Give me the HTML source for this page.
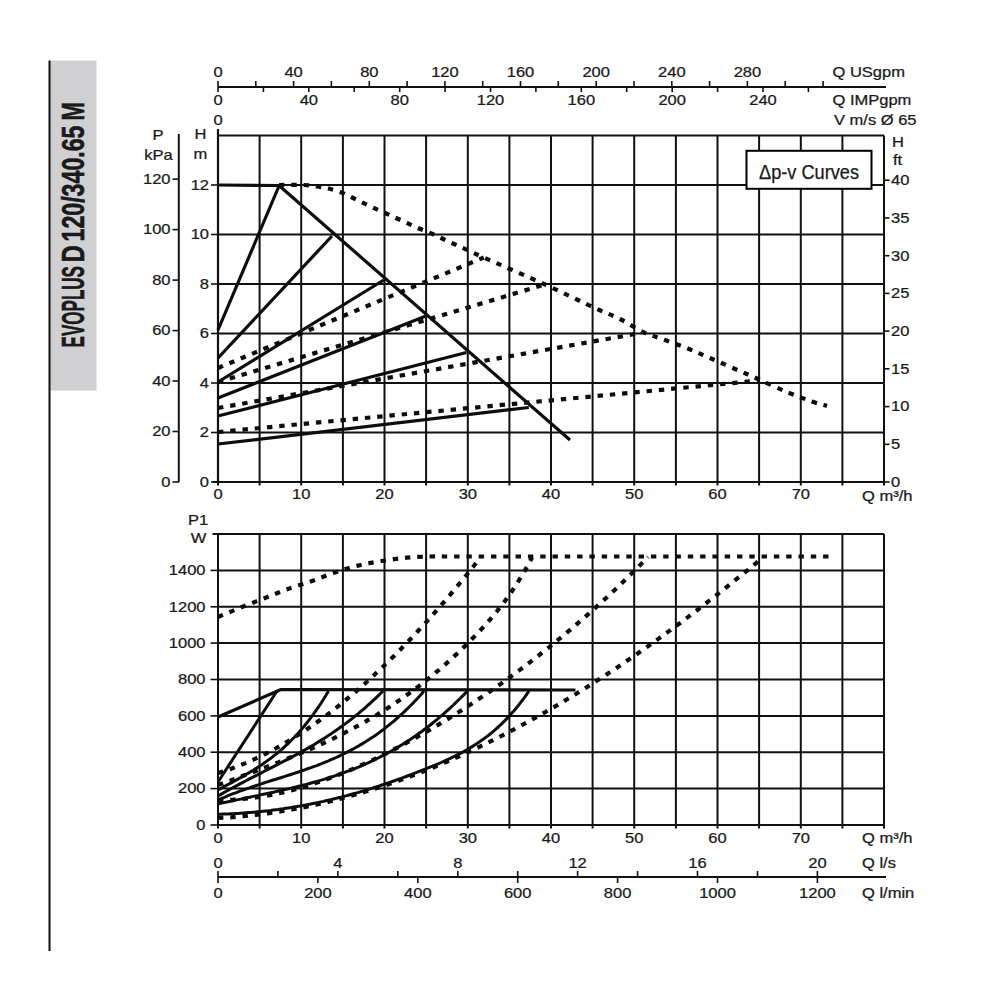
<!DOCTYPE html>
<html><head><meta charset="utf-8"><style>
html,body{margin:0;padding:0;background:#fff;width:1000px;height:1000px;overflow:hidden}
svg{display:block}
text{font-family:"Liberation Sans",sans-serif;fill:#1a1a1a;stroke:#1a1a1a;stroke-width:0.25}
line{stroke:#111}
.sl{fill:none;stroke:#0d0d0d;stroke-linejoin:round}
.dt{fill:none;stroke:#0d0d0d;stroke-width:4.2;stroke-dasharray:5.4 6.9}
</style></head><body>
<svg width="1000" height="1000" viewBox="0 0 1000 1000">
<rect x="50" y="60.5" width="46.5" height="330" fill="#d0d0d2"/>
<line x1="49.5" y1="60.5" x2="49.5" y2="951" stroke-width="2"/>
<text class="side" transform="translate(84.3,347.5) rotate(-90)" x="0" y="0" font-size="32" font-weight="bold" textLength="81.5" lengthAdjust="spacingAndGlyphs" style="stroke-width:0.6">EVOPLUS</text>
<text class="side" transform="translate(84.3,262.3) rotate(-90)" x="0" y="0" font-size="32" font-weight="bold" textLength="17.0" lengthAdjust="spacingAndGlyphs" style="stroke-width:0.6">D</text>
<text class="side" transform="translate(84.3,241.5) rotate(-90)" x="0" y="0" font-size="32" font-weight="bold" textLength="116.0" lengthAdjust="spacingAndGlyphs" style="stroke-width:0.6">120/340.65</text>
<text class="side" transform="translate(84.3,120.6) rotate(-90)" x="0" y="0" font-size="32" font-weight="bold" textLength="18.6" lengthAdjust="spacingAndGlyphs" style="stroke-width:0.6">M</text>
<line x1="218" y1="87" x2="886" y2="87" stroke-width="2"/>
<line x1="218" y1="81" x2="218" y2="87" stroke-width="1.6"/>
<line x1="255.8" y1="81" x2="255.8" y2="87" stroke-width="1.6"/>
<line x1="293.6" y1="81" x2="293.6" y2="87" stroke-width="1.6"/>
<line x1="331.4" y1="81" x2="331.4" y2="87" stroke-width="1.6"/>
<line x1="369.3" y1="81" x2="369.3" y2="87" stroke-width="1.6"/>
<line x1="407.1" y1="81" x2="407.1" y2="87" stroke-width="1.6"/>
<line x1="444.9" y1="81" x2="444.9" y2="87" stroke-width="1.6"/>
<line x1="482.7" y1="81" x2="482.7" y2="87" stroke-width="1.6"/>
<line x1="520.5" y1="81" x2="520.5" y2="87" stroke-width="1.6"/>
<line x1="558.3" y1="81" x2="558.3" y2="87" stroke-width="1.6"/>
<line x1="596.2" y1="81" x2="596.2" y2="87" stroke-width="1.6"/>
<line x1="634" y1="81" x2="634" y2="87" stroke-width="1.6"/>
<line x1="671.8" y1="81" x2="671.8" y2="87" stroke-width="1.6"/>
<line x1="709.6" y1="81" x2="709.6" y2="87" stroke-width="1.6"/>
<line x1="747.4" y1="81" x2="747.4" y2="87" stroke-width="1.6"/>
<line x1="785.2" y1="81" x2="785.2" y2="87" stroke-width="1.6"/>
<line x1="823.1" y1="81" x2="823.1" y2="87" stroke-width="1.6"/>
<line x1="218" y1="87" x2="218" y2="92" stroke-width="1.6"/>
<line x1="263.4" y1="87" x2="263.4" y2="92" stroke-width="1.6"/>
<line x1="308.8" y1="87" x2="308.8" y2="92" stroke-width="1.6"/>
<line x1="354.2" y1="87" x2="354.2" y2="92" stroke-width="1.6"/>
<line x1="399.7" y1="87" x2="399.7" y2="92" stroke-width="1.6"/>
<line x1="445.1" y1="87" x2="445.1" y2="92" stroke-width="1.6"/>
<line x1="490.5" y1="87" x2="490.5" y2="92" stroke-width="1.6"/>
<line x1="535.9" y1="87" x2="535.9" y2="92" stroke-width="1.6"/>
<line x1="581.3" y1="87" x2="581.3" y2="92" stroke-width="1.6"/>
<line x1="626.7" y1="87" x2="626.7" y2="92" stroke-width="1.6"/>
<line x1="672.2" y1="87" x2="672.2" y2="92" stroke-width="1.6"/>
<line x1="717.6" y1="87" x2="717.6" y2="92" stroke-width="1.6"/>
<line x1="763" y1="87" x2="763" y2="92" stroke-width="1.6"/>
<line x1="808.4" y1="87" x2="808.4" y2="92" stroke-width="1.6"/>
<text transform="translate(218,76.5) scale(1.18,1)" text-anchor="middle" font-size="14">0</text>
<text transform="translate(293.6,76.5) scale(1.18,1)" text-anchor="middle" font-size="14">40</text>
<text transform="translate(369.3,76.5) scale(1.18,1)" text-anchor="middle" font-size="14">80</text>
<text transform="translate(444.9,76.5) scale(1.18,1)" text-anchor="middle" font-size="14">120</text>
<text transform="translate(520.5,76.5) scale(1.18,1)" text-anchor="middle" font-size="14">160</text>
<text transform="translate(596.2,76.5) scale(1.18,1)" text-anchor="middle" font-size="14">200</text>
<text transform="translate(671.8,76.5) scale(1.18,1)" text-anchor="middle" font-size="14">240</text>
<text transform="translate(747.4,76.5) scale(1.18,1)" text-anchor="middle" font-size="14">280</text>
<text transform="translate(218,105) scale(1.18,1)" text-anchor="middle" font-size="14">0</text>
<text transform="translate(308.8,105) scale(1.18,1)" text-anchor="middle" font-size="14">40</text>
<text transform="translate(399.7,105) scale(1.18,1)" text-anchor="middle" font-size="14">80</text>
<text transform="translate(490.5,105) scale(1.18,1)" text-anchor="middle" font-size="14">120</text>
<text transform="translate(581.3,105) scale(1.18,1)" text-anchor="middle" font-size="14">160</text>
<text transform="translate(672.2,105) scale(1.18,1)" text-anchor="middle" font-size="14">200</text>
<text transform="translate(763,105) scale(1.18,1)" text-anchor="middle" font-size="14">240</text>
<text transform="translate(832.5,76.5) scale(1.18,1)" text-anchor="start" font-size="14">Q USgpm</text>
<text transform="translate(832.5,105) scale(1.18,1)" text-anchor="start" font-size="14">Q IMPgpm</text>
<text transform="translate(834,124.5) scale(1.18,1)" text-anchor="start" font-size="14">V m/s &#216; 65</text>
<text transform="translate(218,125) scale(1.18,1)" text-anchor="middle" font-size="14">0</text>
<line x1="218" y1="135.5" x2="218" y2="485.5" stroke-width="2"/>
<line x1="259.6" y1="135.5" x2="259.6" y2="485.5" stroke-width="2"/>
<line x1="301.2" y1="135.5" x2="301.2" y2="485.5" stroke-width="2"/>
<line x1="342.9" y1="135.5" x2="342.9" y2="485.5" stroke-width="2"/>
<line x1="384.5" y1="135.5" x2="384.5" y2="485.5" stroke-width="2"/>
<line x1="426.1" y1="135.5" x2="426.1" y2="485.5" stroke-width="2"/>
<line x1="467.8" y1="135.5" x2="467.8" y2="485.5" stroke-width="2"/>
<line x1="509.4" y1="135.5" x2="509.4" y2="485.5" stroke-width="2"/>
<line x1="551" y1="135.5" x2="551" y2="485.5" stroke-width="2"/>
<line x1="592.6" y1="135.5" x2="592.6" y2="485.5" stroke-width="2"/>
<line x1="634.2" y1="135.5" x2="634.2" y2="485.5" stroke-width="2"/>
<line x1="675.9" y1="135.5" x2="675.9" y2="485.5" stroke-width="2"/>
<line x1="717.5" y1="135.5" x2="717.5" y2="485.5" stroke-width="2"/>
<line x1="759.1" y1="135.5" x2="759.1" y2="485.5" stroke-width="2"/>
<line x1="800.8" y1="135.5" x2="800.8" y2="485.5" stroke-width="2"/>
<line x1="842.4" y1="135.5" x2="842.4" y2="485.5" stroke-width="2"/>
<line x1="884" y1="135.5" x2="884" y2="485.5" stroke-width="2"/>
<line x1="218" y1="482" x2="884" y2="482" stroke-width="2"/>
<line x1="218" y1="432.5" x2="884" y2="432.5" stroke-width="2"/>
<line x1="218" y1="383" x2="884" y2="383" stroke-width="2"/>
<line x1="218" y1="333.5" x2="884" y2="333.5" stroke-width="2"/>
<line x1="218" y1="284" x2="884" y2="284" stroke-width="2"/>
<line x1="218" y1="234.5" x2="884" y2="234.5" stroke-width="2"/>
<line x1="218" y1="185" x2="884" y2="185" stroke-width="2"/>
<line x1="218" y1="135.5" x2="884" y2="135.5" stroke-width="2"/>
<line x1="218" y1="129" x2="218" y2="482" stroke-width="2.2"/>
<line x1="213" y1="482" x2="218" y2="482" stroke-width="2"/>
<line x1="178.8" y1="134" x2="178.8" y2="482" stroke-width="2"/>
<line x1="172.5" y1="482" x2="178.8" y2="482" stroke-width="1.6"/>
<text transform="translate(170.5,486.8) scale(1.18,1)" text-anchor="end" font-size="14">0</text>
<line x1="172.5" y1="431.5" x2="178.8" y2="431.5" stroke-width="1.6"/>
<text transform="translate(170.5,436.3) scale(1.18,1)" text-anchor="end" font-size="14">20</text>
<line x1="172.5" y1="381" x2="178.8" y2="381" stroke-width="1.6"/>
<text transform="translate(170.5,385.8) scale(1.18,1)" text-anchor="end" font-size="14">40</text>
<line x1="172.5" y1="330.6" x2="178.8" y2="330.6" stroke-width="1.6"/>
<text transform="translate(170.5,335.4) scale(1.18,1)" text-anchor="end" font-size="14">60</text>
<line x1="172.5" y1="280.1" x2="178.8" y2="280.1" stroke-width="1.6"/>
<text transform="translate(170.5,284.9) scale(1.18,1)" text-anchor="end" font-size="14">80</text>
<line x1="172.5" y1="229.6" x2="178.8" y2="229.6" stroke-width="1.6"/>
<text transform="translate(170.5,234.4) scale(1.18,1)" text-anchor="end" font-size="14">100</text>
<line x1="172.5" y1="179.1" x2="178.8" y2="179.1" stroke-width="1.6"/>
<text transform="translate(170.5,183.9) scale(1.18,1)" text-anchor="end" font-size="14">120</text>
<text transform="translate(158,140) scale(1.18,1)" text-anchor="middle" font-size="14">P</text>
<text transform="translate(158.5,160) scale(1.18,1)" text-anchor="middle" font-size="14">kPa</text>
<text transform="translate(200.5,139) scale(1.18,1)" text-anchor="middle" font-size="14">H</text>
<text transform="translate(200.5,159) scale(1.18,1)" text-anchor="middle" font-size="14">m</text>
<line x1="211" y1="482" x2="218" y2="482" stroke-width="1.6"/>
<text transform="translate(209,486.8) scale(1.18,1)" text-anchor="end" font-size="14">0</text>
<line x1="211" y1="432.5" x2="218" y2="432.5" stroke-width="1.6"/>
<text transform="translate(209,437.3) scale(1.18,1)" text-anchor="end" font-size="14">2</text>
<line x1="211" y1="383" x2="218" y2="383" stroke-width="1.6"/>
<text transform="translate(209,387.8) scale(1.18,1)" text-anchor="end" font-size="14">4</text>
<line x1="211" y1="333.5" x2="218" y2="333.5" stroke-width="1.6"/>
<text transform="translate(209,338.3) scale(1.18,1)" text-anchor="end" font-size="14">6</text>
<line x1="211" y1="284" x2="218" y2="284" stroke-width="1.6"/>
<text transform="translate(209,288.8) scale(1.18,1)" text-anchor="end" font-size="14">8</text>
<line x1="211" y1="234.5" x2="218" y2="234.5" stroke-width="1.6"/>
<text transform="translate(209,239.3) scale(1.18,1)" text-anchor="end" font-size="14">10</text>
<line x1="211" y1="185" x2="218" y2="185" stroke-width="1.6"/>
<text transform="translate(209,189.8) scale(1.18,1)" text-anchor="end" font-size="14">12</text>
<line x1="884" y1="482" x2="889.5" y2="482" stroke-width="1.6"/>
<text transform="translate(891,486.8) scale(1.18,1)" text-anchor="start" font-size="14">0</text>
<line x1="884" y1="444.3" x2="889.5" y2="444.3" stroke-width="1.6"/>
<text transform="translate(891,449.1) scale(1.18,1)" text-anchor="start" font-size="14">5</text>
<line x1="884" y1="406.6" x2="889.5" y2="406.6" stroke-width="1.6"/>
<text transform="translate(891,411.4) scale(1.18,1)" text-anchor="start" font-size="14">10</text>
<line x1="884" y1="368.8" x2="889.5" y2="368.8" stroke-width="1.6"/>
<text transform="translate(891,373.6) scale(1.18,1)" text-anchor="start" font-size="14">15</text>
<line x1="884" y1="331.1" x2="889.5" y2="331.1" stroke-width="1.6"/>
<text transform="translate(891,335.9) scale(1.18,1)" text-anchor="start" font-size="14">20</text>
<line x1="884" y1="293.4" x2="889.5" y2="293.4" stroke-width="1.6"/>
<text transform="translate(891,298.2) scale(1.18,1)" text-anchor="start" font-size="14">25</text>
<line x1="884" y1="255.7" x2="889.5" y2="255.7" stroke-width="1.6"/>
<text transform="translate(891,260.5) scale(1.18,1)" text-anchor="start" font-size="14">30</text>
<line x1="884" y1="218" x2="889.5" y2="218" stroke-width="1.6"/>
<text transform="translate(891,222.8) scale(1.18,1)" text-anchor="start" font-size="14">35</text>
<line x1="884" y1="180.2" x2="889.5" y2="180.2" stroke-width="1.6"/>
<text transform="translate(891,185) scale(1.18,1)" text-anchor="start" font-size="14">40</text>
<text transform="translate(892,146.5) scale(1.18,1)" text-anchor="start" font-size="14">H</text>
<text transform="translate(893,164.5) scale(1.18,1)" text-anchor="start" font-size="14">ft</text>
<text transform="translate(218,499) scale(1.18,1)" text-anchor="middle" font-size="14">0</text>
<text transform="translate(301.2,499) scale(1.18,1)" text-anchor="middle" font-size="14">10</text>
<text transform="translate(384.5,499) scale(1.18,1)" text-anchor="middle" font-size="14">20</text>
<text transform="translate(467.8,499) scale(1.18,1)" text-anchor="middle" font-size="14">30</text>
<text transform="translate(551,499) scale(1.18,1)" text-anchor="middle" font-size="14">40</text>
<text transform="translate(634.2,499) scale(1.18,1)" text-anchor="middle" font-size="14">50</text>
<text transform="translate(717.5,499) scale(1.18,1)" text-anchor="middle" font-size="14">60</text>
<text transform="translate(800.8,499) scale(1.18,1)" text-anchor="middle" font-size="14">70</text>
<text transform="translate(862,500.5) scale(1.18,1)" text-anchor="start" font-size="14">Q m&#179;/h</text>
<rect x="746.5" y="150.8" width="125" height="38" fill="#fff" stroke="#000" stroke-width="2"/>
<text x="759" y="179" font-size="19.5" textLength="100" lengthAdjust="spacingAndGlyphs">&#916;p-v Curves</text>
<path d="M218,185 L279,185.5 L570,440" class="sl" stroke-width="3.2"/>
<path d="M218,330 L279,186" class="sl" stroke-width="3.2"/>
<path d="M218,358 L332,236" class="sl" stroke-width="3.2"/>
<path d="M218,382 L383.8,280" class="sl" stroke-width="3.2"/>
<path d="M218,398 L426,316" class="sl" stroke-width="3.2"/>
<path d="M218,416 L466.5,352.5" class="sl" stroke-width="3.2"/>
<path d="M218,444 L528.8,407.5" class="sl" stroke-width="3.2"/>
<path d="M279,185 C283.2,185 297.7,184.8 304,185 C310.3,185.2 313,185.8 317,186.4 C321,187 324.2,187.5 328,188.4 C331.8,189.3 336.2,190.6 340,192 C343.8,193.4 347.3,195.3 351,197 C354.7,198.7 358.3,200.6 362,202.4 C365.7,204.2 369.2,205.8 373,207.6 C376.8,209.4 381.2,211.3 385,213 C388.8,214.7 392.3,216.3 396,218 C399.7,219.7 403.3,221.3 407,223 C410.7,224.7 414.3,226.4 418,228 C421.7,229.6 425.2,230.7 429,232.4 C432.8,234.1 437.2,236.2 441,238 C444.8,239.8 444.9,239.8 452,243 C459.1,246.2 468.2,250.6 483.8,257.5 C499.2,264.4 526.3,276 545,284.5 C563.7,293 583.5,302.8 596,308.5 C608.5,314.2 612,315 620,319 C628,323 636.5,329 644,332.5 C651.5,336 657.5,337.2 665,340 C672.5,342.8 681.5,346 689,349 C696.5,352 702.5,354.8 710,358 C717.5,361.2 726,365 734,368.5 C742,372 749,375 758,379 C767,383 779,388.8 788,392.5 C797,396.2 805.5,399.2 812,401.5 C818.5,403.8 824.5,405.2 827,406" class="dt"/>
<path d="M218,368 L483.8,257.5" class="dt"/>
<path d="M218,382 L545,284.5" class="dt"/>
<path d="M218,408 L635,334" class="dt"/>
<path d="M218,432 L759.5,380.5" class="dt"/>
<line x1="218" y1="534" x2="218" y2="828.5" stroke-width="2"/>
<line x1="259.6" y1="534" x2="259.6" y2="828.5" stroke-width="2"/>
<line x1="301.2" y1="534" x2="301.2" y2="828.5" stroke-width="2"/>
<line x1="342.9" y1="534" x2="342.9" y2="828.5" stroke-width="2"/>
<line x1="384.5" y1="534" x2="384.5" y2="828.5" stroke-width="2"/>
<line x1="426.1" y1="534" x2="426.1" y2="828.5" stroke-width="2"/>
<line x1="467.8" y1="534" x2="467.8" y2="828.5" stroke-width="2"/>
<line x1="509.4" y1="534" x2="509.4" y2="828.5" stroke-width="2"/>
<line x1="551" y1="534" x2="551" y2="828.5" stroke-width="2"/>
<line x1="592.6" y1="534" x2="592.6" y2="828.5" stroke-width="2"/>
<line x1="634.2" y1="534" x2="634.2" y2="828.5" stroke-width="2"/>
<line x1="675.9" y1="534" x2="675.9" y2="828.5" stroke-width="2"/>
<line x1="717.5" y1="534" x2="717.5" y2="828.5" stroke-width="2"/>
<line x1="759.1" y1="534" x2="759.1" y2="828.5" stroke-width="2"/>
<line x1="800.8" y1="534" x2="800.8" y2="828.5" stroke-width="2"/>
<line x1="842.4" y1="534" x2="842.4" y2="828.5" stroke-width="2"/>
<line x1="884" y1="534" x2="884" y2="828.5" stroke-width="2"/>
<line x1="218" y1="825" x2="884" y2="825" stroke-width="2"/>
<line x1="218" y1="788.6" x2="884" y2="788.6" stroke-width="2"/>
<line x1="218" y1="752.2" x2="884" y2="752.2" stroke-width="2"/>
<line x1="218" y1="715.9" x2="884" y2="715.9" stroke-width="2"/>
<line x1="218" y1="679.5" x2="884" y2="679.5" stroke-width="2"/>
<line x1="218" y1="643.1" x2="884" y2="643.1" stroke-width="2"/>
<line x1="218" y1="606.8" x2="884" y2="606.8" stroke-width="2"/>
<line x1="218" y1="570.4" x2="884" y2="570.4" stroke-width="2"/>
<line x1="218" y1="534" x2="884" y2="534" stroke-width="2"/>
<line x1="212.5" y1="534" x2="218" y2="534" stroke-width="2"/>
<line x1="210.5" y1="825" x2="218" y2="825" stroke-width="1.6"/>
<text transform="translate(205.5,829.8) scale(1.18,1)" text-anchor="end" font-size="14">0</text>
<line x1="210.5" y1="788.6" x2="218" y2="788.6" stroke-width="1.6"/>
<text transform="translate(205.5,793.4) scale(1.18,1)" text-anchor="end" font-size="14">200</text>
<line x1="210.5" y1="752.2" x2="218" y2="752.2" stroke-width="1.6"/>
<text transform="translate(205.5,757) scale(1.18,1)" text-anchor="end" font-size="14">400</text>
<line x1="210.5" y1="715.9" x2="218" y2="715.9" stroke-width="1.6"/>
<text transform="translate(205.5,720.7) scale(1.18,1)" text-anchor="end" font-size="14">600</text>
<line x1="210.5" y1="679.5" x2="218" y2="679.5" stroke-width="1.6"/>
<text transform="translate(205.5,684.3) scale(1.18,1)" text-anchor="end" font-size="14">800</text>
<line x1="210.5" y1="643.1" x2="218" y2="643.1" stroke-width="1.6"/>
<text transform="translate(205.5,647.9) scale(1.18,1)" text-anchor="end" font-size="14">1000</text>
<line x1="210.5" y1="606.8" x2="218" y2="606.8" stroke-width="1.6"/>
<text transform="translate(205.5,611.5) scale(1.18,1)" text-anchor="end" font-size="14">1200</text>
<line x1="210.5" y1="570.4" x2="218" y2="570.4" stroke-width="1.6"/>
<text transform="translate(205.5,575.2) scale(1.18,1)" text-anchor="end" font-size="14">1400</text>
<text transform="translate(198,525) scale(1.18,1)" text-anchor="middle" font-size="14">P1</text>
<text transform="translate(198.5,543) scale(1.18,1)" text-anchor="middle" font-size="14">W</text>
<text transform="translate(218,842.5) scale(1.18,1)" text-anchor="middle" font-size="14">0</text>
<text transform="translate(301.2,842.5) scale(1.18,1)" text-anchor="middle" font-size="14">10</text>
<text transform="translate(384.5,842.5) scale(1.18,1)" text-anchor="middle" font-size="14">20</text>
<text transform="translate(467.8,842.5) scale(1.18,1)" text-anchor="middle" font-size="14">30</text>
<text transform="translate(551,842.5) scale(1.18,1)" text-anchor="middle" font-size="14">40</text>
<text transform="translate(634.2,842.5) scale(1.18,1)" text-anchor="middle" font-size="14">50</text>
<text transform="translate(717.5,842.5) scale(1.18,1)" text-anchor="middle" font-size="14">60</text>
<text transform="translate(800.8,842.5) scale(1.18,1)" text-anchor="middle" font-size="14">70</text>
<text transform="translate(862,843) scale(1.18,1)" text-anchor="start" font-size="14">Q m&#179;/h</text>
<line x1="218" y1="877" x2="886" y2="877" stroke-width="2"/>
<line x1="218" y1="871" x2="218" y2="877" stroke-width="1.6"/>
<line x1="277.9" y1="871" x2="277.9" y2="877" stroke-width="1.6"/>
<line x1="337.9" y1="871" x2="337.9" y2="877" stroke-width="1.6"/>
<line x1="397.8" y1="871" x2="397.8" y2="877" stroke-width="1.6"/>
<line x1="457.8" y1="871" x2="457.8" y2="877" stroke-width="1.6"/>
<line x1="517.7" y1="871" x2="517.7" y2="877" stroke-width="1.6"/>
<line x1="577.6" y1="871" x2="577.6" y2="877" stroke-width="1.6"/>
<line x1="637.6" y1="871" x2="637.6" y2="877" stroke-width="1.6"/>
<line x1="697.5" y1="871" x2="697.5" y2="877" stroke-width="1.6"/>
<line x1="757.5" y1="871" x2="757.5" y2="877" stroke-width="1.6"/>
<line x1="817.4" y1="871" x2="817.4" y2="877" stroke-width="1.6"/>
<line x1="218" y1="877" x2="218" y2="883" stroke-width="1.6"/>
<line x1="317.9" y1="877" x2="317.9" y2="883" stroke-width="1.6"/>
<line x1="417.8" y1="877" x2="417.8" y2="883" stroke-width="1.6"/>
<line x1="517.7" y1="877" x2="517.7" y2="883" stroke-width="1.6"/>
<line x1="617.6" y1="877" x2="617.6" y2="883" stroke-width="1.6"/>
<line x1="717.5" y1="877" x2="717.5" y2="883" stroke-width="1.6"/>
<line x1="817.4" y1="877" x2="817.4" y2="883" stroke-width="1.6"/>
<text transform="translate(218,868) scale(1.18,1)" text-anchor="middle" font-size="14">0</text>
<text transform="translate(337.9,868) scale(1.18,1)" text-anchor="middle" font-size="14">4</text>
<text transform="translate(457.8,868) scale(1.18,1)" text-anchor="middle" font-size="14">8</text>
<text transform="translate(577.6,868) scale(1.18,1)" text-anchor="middle" font-size="14">12</text>
<text transform="translate(697.5,868) scale(1.18,1)" text-anchor="middle" font-size="14">16</text>
<text transform="translate(817.4,868) scale(1.18,1)" text-anchor="middle" font-size="14">20</text>
<text transform="translate(218,898) scale(1.18,1)" text-anchor="middle" font-size="14">0</text>
<text transform="translate(317.9,898) scale(1.18,1)" text-anchor="middle" font-size="14">200</text>
<text transform="translate(417.8,898) scale(1.18,1)" text-anchor="middle" font-size="14">400</text>
<text transform="translate(517.7,898) scale(1.18,1)" text-anchor="middle" font-size="14">600</text>
<text transform="translate(617.6,898) scale(1.18,1)" text-anchor="middle" font-size="14">800</text>
<text transform="translate(717.5,898) scale(1.18,1)" text-anchor="middle" font-size="14">1000</text>
<text transform="translate(817.4,898) scale(1.18,1)" text-anchor="middle" font-size="14">1200</text>
<text transform="translate(862,868) scale(1.18,1)" text-anchor="start" font-size="14">Q l/s</text>
<text transform="translate(862,898) scale(1.18,1)" text-anchor="start" font-size="14">Q l/min</text>
<path d="M218,717 L281,689.5 L575.5,690" class="sl" stroke-width="3.2"/>
<path d="M218,782 L277,691" class="sl" stroke-width="3"/>
<path d="M218,790 L220.5,788.6 L223,787.2 L225.5,785.9 L228,784.5 L230.6,783.1 L233.1,781.8 L235.6,780.4 L238.1,779 L240.6,777.6 L243.1,776.2 L245.6,774.7 L248.1,773.2 L250.6,771.7 L253.2,770.2 L255.7,768.6 L258.2,767 L260.7,765.4 L263.2,763.7 L265.7,761.9 L268.2,760.1 L270.7,758.3 L273.2,756.3 L275.8,754.4 L278.3,752.3 L280.8,750.2 L283.3,748 L285.8,745.7 L288.3,743.3 L290.8,740.8 L293.3,738.3 L295.9,735.6 L298.4,732.9 L300.9,730.1 L303.4,727.1 L305.9,724 L308.4,720.9 L310.9,717.6 L313.4,714.2 L315.9,710.6 L318.5,707 L321,703.2 L323.5,699.3 L326,695.2 L328.5,691" class="sl" stroke-width="3"/>
<path d="M218,796 L220.5,794.6 L223,793.1 L225.5,791.7 L228,790.3 L230.5,789 L233,787.6 L235.5,786.3 L238,784.9 L240.5,783.6 L243,782.3 L245.5,781 L248,779.7 L250.5,778.4 L253,777.1 L255.5,775.8 L258,774.6 L260.5,773.3 L263,772 L265.5,770.7 L268,769.5 L270.5,768.2 L273,766.9 L275.5,765.6 L278,764.3 L280.5,763 L283,761.7 L285.5,760.4 L288,759.1 L290.5,757.8 L293,756.4 L295.5,755.1 L298,753.7 L300.5,752.3 L303,750.9 L305.5,749.5 L308,748.1 L310.5,746.6 L313,745.2 L315.5,743.7 L318,742.1 L320.5,740.6 L323,739 L325.5,737.4 L328,735.8 L330.5,734.2 L333,732.5 L335.5,730.8 L338,729 L340.5,727.2 L343,725.4 L345.5,723.6 L348,721.7 L350.5,719.8 L353,717.8 L355.5,715.8 L358,713.8 L360.5,711.7 L363,709.6 L365.5,707.5 L368,705.2 L370.5,703 L373,700.7 L375.5,698.3 L378,695.9 L380.5,693.5 L383,691" class="sl" stroke-width="3"/>
<path d="M218,800 L220.5,798.9 L223,797.8 L225.5,796.8 L228,795.7 L230.6,794.7 L233.1,793.7 L235.6,792.8 L238.1,791.8 L240.6,790.9 L243.1,790 L245.6,789.1 L248.1,788.3 L250.7,787.4 L253.2,786.5 L255.7,785.7 L258.2,784.9 L260.7,784.1 L263.2,783.2 L265.7,782.4 L268.2,781.6 L270.8,780.8 L273.3,780 L275.8,779.3 L278.3,778.5 L280.8,777.7 L283.3,776.9 L285.8,776.1 L288.3,775.3 L290.9,774.5 L293.4,773.6 L295.9,772.8 L298.4,772 L300.9,771.1 L303.4,770.3 L305.9,769.4 L308.4,768.5 L311,767.6 L313.5,766.7 L316,765.8 L318.5,764.8 L321,763.8 L323.5,762.8 L326,761.8 L328.5,760.8 L331,759.7 L333.6,758.6 L336.1,757.5 L338.6,756.3 L341.1,755.1 L343.6,753.9 L346.1,752.7 L348.6,751.4 L351.1,750.1 L353.7,748.7 L356.2,747.3 L358.7,745.9 L361.2,744.4 L363.7,742.9 L366.2,741.3 L368.7,739.7 L371.2,738.1 L373.8,736.4 L376.3,734.7 L378.8,732.9 L381.3,731 L383.8,729.2 L386.3,727.2 L388.8,725.2 L391.3,723.2 L393.9,721.1 L396.4,718.9 L398.9,716.7 L401.4,714.4 L403.9,712.1 L406.4,709.7 L408.9,707.2 L411.4,704.7 L414,702.1 L416.5,699.4 L419,696.7 L421.5,693.9 L424,691" class="sl" stroke-width="3"/>
<path d="M218,804 L220.5,803.4 L223,802.9 L225.6,802.3 L228.1,801.8 L230.6,801.2 L233.1,800.7 L235.6,800.1 L238.2,799.6 L240.7,799.1 L243.2,798.5 L245.7,798 L248.2,797.5 L250.7,797 L253.3,796.4 L255.8,795.9 L258.3,795.4 L260.8,794.8 L263.3,794.3 L265.9,793.8 L268.4,793.2 L270.9,792.7 L273.4,792.2 L275.9,791.6 L278.5,791 L281,790.5 L283.5,789.9 L286,789.3 L288.5,788.7 L291.1,788.2 L293.6,787.5 L296.1,786.9 L298.6,786.3 L301.1,785.7 L303.7,785 L306.2,784.4 L308.7,783.7 L311.2,783 L313.7,782.3 L316.2,781.6 L318.8,780.9 L321.3,780.1 L323.8,779.4 L326.3,778.6 L328.8,777.8 L331.4,777 L333.9,776.2 L336.4,775.3 L338.9,774.5 L341.4,773.6 L344,772.7 L346.5,771.7 L349,770.8 L351.5,769.8 L354,768.8 L356.6,767.8 L359.1,766.8 L361.6,765.7 L364.1,764.6 L366.6,763.5 L369.2,762.3 L371.7,761.2 L374.2,760 L376.7,758.7 L379.2,757.5 L381.7,756.2 L384.3,754.9 L386.8,753.5 L389.3,752.2 L391.8,750.8 L394.3,749.3 L396.9,747.8 L399.4,746.3 L401.9,744.8 L404.4,743.2 L406.9,741.6 L409.5,740 L412,738.3 L414.5,736.6 L417,734.8 L419.5,733 L422.1,731.2 L424.6,729.3 L427.1,727.4 L429.6,725.5 L432.1,723.5 L434.7,721.4 L437.2,719.4 L439.7,717.2 L442.2,715.1 L444.7,712.9 L447.2,710.6 L449.8,708.3 L452.3,706 L454.8,703.6 L457.3,701.2 L459.8,698.7 L462.4,696.2 L464.9,693.6 L467.4,691" class="sl" stroke-width="3"/>
<path d="M218,814.3 L220.5,814.2 L223,814.1 L225.5,814 L228,813.9 L230.5,813.8 L233,813.7 L235.6,813.5 L238.1,813.4 L240.6,813.2 L243.1,813 L245.6,812.8 L248.1,812.6 L250.6,812.4 L253.1,812.2 L255.6,812 L258.1,811.7 L260.6,811.5 L263.1,811.2 L265.7,810.9 L268.2,810.7 L270.7,810.4 L273.2,810 L275.7,809.7 L278.2,809.4 L280.7,809 L283.2,808.7 L285.7,808.3 L288.2,807.9 L290.7,807.6 L293.2,807.1 L295.8,806.7 L298.3,806.3 L300.8,805.9 L303.3,805.4 L305.8,805 L308.3,804.5 L310.8,804 L313.3,803.5 L315.8,803 L318.3,802.5 L320.8,801.9 L323.3,801.4 L325.8,800.8 L328.4,800.2 L330.9,799.6 L333.4,799 L335.9,798.4 L338.4,797.8 L340.9,797.2 L343.4,796.5 L345.9,795.9 L348.4,795.2 L350.9,794.5 L353.4,793.8 L355.9,793.1 L358.5,792.4 L361,791.6 L363.5,790.9 L366,790.1 L368.5,789.3 L371,788.6 L373.5,787.8 L376,787 L378.5,786.2 L381,785.3 L383.5,784.5 L386,783.6 L388.5,782.8 L391.1,781.9 L393.6,781 L396.1,780.1 L398.6,779.2 L401.1,778.3 L403.6,777.4 L406.1,776.5 L408.6,775.5 L411.1,774.6 L413.6,773.6 L416.1,772.7 L418.6,771.7 L421.2,770.7 L423.7,769.7 L426.2,768.7 L428.7,767.7 L431.2,766.7 L433.7,765.7 L436.2,764.6 L438.7,763.6 L441.2,762.5 L443.7,761.4 L446.2,760.2 L448.7,759.1 L451.2,757.9 L453.8,756.7 L456.3,755.4 L458.8,754.1 L461.3,752.8 L463.8,751.5 L466.3,750.1 L468.8,748.6 L471.3,747.1 L473.8,745.6 L476.3,744 L478.8,742.3 L481.3,740.6 L483.9,738.8 L486.4,736.9 L488.9,735 L491.4,733 L493.9,730.9 L496.4,728.7 L498.9,726.4 L501.4,724.1 L503.9,721.6 L506.4,719.1 L508.9,716.4 L511.4,713.6 L514,710.8 L516.5,707.8 L519,704.7 L521.5,701.4 L524,698.1 L526.5,694.6 L529,691" class="sl" stroke-width="3"/>
<path d="M218,617 C222,615.3 234.2,610.2 242,607 C249.8,603.8 257.3,601 265,598 C272.7,595 280.2,591.8 288,589 C295.8,586.2 304.2,583.8 312,581 C319.8,578.2 327.3,575 335,572.4 C342.7,569.8 350.2,567.5 358,565.6 C365.8,563.7 373.8,562.3 382,561 C390.2,559.7 399,558.4 407,557.6 C415,556.9 423.7,556.7 430,556.5 C436.3,556.3 442.5,556.5 445,556.5" class="dt"/>
<path d="M828.5,556.5 L445,556.5" class="dt"/>
<path d="M218,773 L220.5,772.2 L223,771.4 L225.5,770.6 L228,769.8 L230.5,768.9 L233,768 L235.5,767.1 L238,766.1 L240.5,765.1 L243,764.1 L245.5,763.1 L248,762 L250.5,760.9 L253,759.8 L255.5,758.6 L258,757.5 L260.5,756.2 L263,755 L265.5,753.8 L268,752.5 L270.5,751.2 L273,749.8 L275.5,748.5 L278,747.1 L280.5,745.7 L283,744.2 L285.5,742.8 L288,741.3 L290.5,739.8 L293,738.2 L295.5,736.7 L298,735.1 L300.5,733.5 L303,731.8 L305.5,730.2 L308,728.5 L310.5,726.8 L313,725 L315.5,723.3 L318,721.5 L320.5,719.7 L323,717.8 L325.5,716 L328,714.1 L330.5,712.2 L333,710.2 L335.5,708.3 L338,706.3 L340.5,704.3 L343,702.3 L345.5,700.2 L348,698.1 L350.5,696.1 L353,693.9 L355.5,691.8 L358,689.6 L360.5,687.4 L363,685.2 L365.5,683 L368,680.7 L370.5,678.5 L373,676.2 L375.5,673.8 L378,671.5 L380.5,669.1 L383,666.7 L385.5,664.3 L388,661.9 L390.5,659.4 L393,657 L395.5,654.5 L398,651.9 L400.5,649.4 L403,646.8 L405.5,644.3 L408,641.7 L410.5,639 L413,636.4 L415.5,633.7 L418,631 L420.5,628.3 L423,625.6 L425.5,622.9 L428,620.1 L430.5,617.3 L433,614.5 L435.5,611.7 L438,608.8 L440.5,606 L443,603.1 L445.5,600.2 L448,597.2 L450.5,594.3 L453,591.3 L455.5,588.4 L458,585.4 L460.5,582.3 L463,579.3 L465.5,576.2 L468,573.2 L470.5,570.1 L473,567 L475.5,563.8 L478,560.7 L480.5,557.5" class="dt"/>
<path d="M218,785 L220.5,784.1 L223,783.1 L225.5,782.2 L228,781.3 L230.6,780.4 L233.1,779.4 L235.6,778.5 L238.1,777.6 L240.6,776.6 L243.1,775.7 L245.6,774.8 L248.1,773.9 L250.7,772.9 L253.2,772 L255.7,771 L258.2,770.1 L260.7,769.1 L263.2,768.2 L265.7,767.2 L268.2,766.3 L270.8,765.3 L273.3,764.3 L275.8,763.3 L278.3,762.4 L280.8,761.4 L283.3,760.4 L285.8,759.4 L288.3,758.3 L290.8,757.3 L293.4,756.3 L295.9,755.2 L298.4,754.2 L300.9,753.1 L303.4,752.1 L305.9,751 L308.4,749.9 L310.9,748.8 L313.5,747.7 L316,746.6 L318.5,745.4 L321,744.3 L323.5,743.1 L326,741.9 L328.5,740.7 L331,739.5 L333.6,738.3 L336.1,737.1 L338.6,735.9 L341.1,734.6 L343.6,733.3 L346.1,732 L348.6,730.7 L351.1,729.4 L353.6,728.1 L356.2,726.7 L358.7,725.3 L361.2,723.9 L363.7,722.5 L366.2,721.1 L368.7,719.6 L371.2,718.2 L373.7,716.7 L376.3,715.2 L378.8,713.6 L381.3,712.1 L383.8,710.5 L386.3,708.9 L388.8,707.3 L391.3,705.7 L393.8,704 L396.4,702.3 L398.9,700.6 L401.4,698.9 L403.9,697.1 L406.4,695.3 L408.9,693.5 L411.4,691.7 L413.9,689.8 L416.4,688 L419,686.1 L421.5,684.1 L424,682.2 L426.5,680.2 L429,678.2 L431.5,676.1 L434,674 L436.5,671.9 L439.1,669.8 L441.6,667.6 L444.1,665.5 L446.6,663.2 L449.1,661 L451.6,658.7 L454.1,656.4 L456.6,654.1 L459.2,651.7 L461.7,649.3 L464.2,646.8 L466.7,644.4 L469.2,641.9 L471.7,639.3 L474.2,636.7 L476.7,634.1 L479.2,631.5 L481.8,628.8 L484.3,626.1 L486.8,623.3 L489.3,620.4 L491.8,617.5 L494.3,614.5 L496.8,611.5 L499.3,608.3 L501.9,605.1 L504.4,601.8 L506.9,598.3 L509.4,594.8 L511.9,591.2 L514.4,587.4 L516.9,583.6 L519.4,579.6 L522,575.5 L524.5,571.2 L527,566.8 L529.5,562.3 L532,557.6" class="dt"/>
<path d="M218,800 L220.5,800 L223,800 L225.5,800 L228,799.9 L230.5,799.8 L233,799.7 L235.5,799.5 L238,799.4 L240.5,799.2 L243,799 L245.5,798.7 L248,798.5 L250.5,798.2 L253,797.9 L255.5,797.5 L258,797.2 L260.5,796.8 L263,796.4 L265.5,796 L268,795.5 L270.5,795.1 L273,794.6 L275.5,794.1 L278,793.5 L280.5,793 L283,792.4 L285.5,791.8 L288,791.2 L290.5,790.6 L293,789.9 L295.5,789.2 L298,788.5 L300.5,787.8 L303,787.1 L305.5,786.3 L308,785.6 L310.5,784.8 L313,784 L315.5,783.1 L318,782.3 L320.5,781.4 L323,780.6 L325.5,779.7 L328,778.8 L330.5,777.8 L333,776.9 L335.5,775.9 L338,775 L340.5,774 L343,773 L345.5,771.9 L348,770.9 L350.5,769.9 L353,768.8 L355.5,767.7 L358,766.6 L360.5,765.5 L363,764.4 L365.5,763.2 L368,762.1 L370.5,760.9 L373,759.8 L375.5,758.6 L378,757.4 L380.5,756.2 L383,754.9 L385.5,753.7 L388,752.5 L390.5,751.2 L393,749.9 L395.5,748.6 L398,747.3 L400.5,746 L403,744.7 L405.5,743.4 L408,742 L410.5,740.7 L413,739.3 L415.5,737.9 L418,736.5 L420.5,735.1 L423,733.7 L425.5,732.3 L428,730.8 L430.5,729.4 L433,727.9 L435.5,726.4 L438,724.9 L440.5,723.4 L443,721.9 L445.5,720.4 L448,718.9 L450.5,717.3 L453,715.7 L455.5,714.2 L458,712.6 L460.5,711 L463,709.4 L465.5,707.8 L468,706.1 L470.5,704.5 L473,702.9 L475.5,701.2 L478,699.5 L480.5,697.8 L483,696.1 L485.5,694.4 L488,692.7 L490.5,691 L493,689.2 L495.5,687.5 L498,685.7 L500.5,684 L503,682.2 L505.5,680.4 L508,678.6 L510.5,676.8 L513,674.9 L515.5,673.1 L518,671.2 L520.5,669.4 L523,667.5 L525.5,665.6 L528,663.7 L530.5,661.8 L533,659.9 L535.5,657.9 L538,656 L540.5,654 L543,652.1 L545.5,650.1 L548,648.1 L550.5,646.1 L553,644.1 L555.5,642 L558,640 L560.5,637.9 L563,635.9 L565.5,633.8 L568,631.7 L570.5,629.6 L573,627.4 L575.5,625.3 L578,623.1 L580.5,621 L583,618.8 L585.5,616.6 L588,614.4 L590.5,612.2 L593,609.9 L595.5,607.7 L598,605.4 L600.5,603.1 L603,600.8 L605.5,598.5 L608,596.2 L610.5,593.9 L613,591.5 L615.5,589.2 L618,586.8 L620.5,584.4 L623,582 L625.5,579.5 L628,577.1 L630.5,574.6 L633,572.2 L635.5,569.7 L638,567.2 L640.5,564.7 L643,562.1 L645.5,559.6 L648,557" class="dt"/>
<path d="M218,818 L220.5,817.9 L223,817.7 L225.5,817.6 L228,817.4 L230.5,817.3 L233,817.1 L235.5,816.9 L238,816.7 L240.5,816.4 L243,816.2 L245.5,816 L248,815.7 L250.5,815.5 L253,815.2 L255.5,814.9 L258,814.6 L260.5,814.3 L263,814 L265.5,813.6 L268,813.3 L270.5,813 L273,812.6 L275.5,812.2 L278,811.8 L280.5,811.4 L283,811 L285.5,810.6 L288,810.2 L290.5,809.7 L293,809.3 L295.5,808.8 L298,808.4 L300.5,807.9 L303,807.4 L305.5,806.9 L308,806.4 L310.5,805.8 L313,805.3 L315.5,804.8 L318,804.2 L320.5,803.6 L323,803.1 L325.5,802.5 L328,801.9 L330.5,801.3 L333,800.6 L335.5,800 L338,799.4 L340.5,798.7 L343,798 L345.5,797.4 L348,796.7 L350.5,796 L353,795.3 L355.5,794.6 L358,793.9 L360.5,793.1 L363,792.4 L365.5,791.6 L368,790.9 L370.5,790.1 L373,789.3 L375.5,788.5 L378,787.7 L380.5,786.9 L383,786.1 L385.5,785.2 L388,784.4 L390.5,783.5 L393,782.7 L395.5,781.8 L398,780.9 L400.5,780 L403,779.1 L405.5,778.2 L408,777.3 L410.5,776.3 L413,775.4 L415.5,774.4 L418,773.5 L420.5,772.5 L423,771.5 L425.5,770.5 L428,769.5 L430.5,768.5 L433,767.5 L435.5,766.5 L438,765.4 L440.5,764.4 L443,763.3 L445.5,762.2 L448,761.2 L450.5,760.1 L453,759 L455.5,757.9 L458,756.8 L460.5,755.6 L463,754.5 L465.5,753.3 L468,752.2 L470.5,751 L473,749.9 L475.5,748.7 L478,747.5 L480.5,746.3 L483,745.1 L485.5,743.9 L488,742.6 L490.5,741.4 L493,740.2 L495.5,738.9 L498,737.6 L500.5,736.4 L503,735.1 L505.5,733.8 L508,732.5 L510.5,731.2 L513,729.9 L515.5,728.6 L518,727.2 L520.5,725.9 L523,724.5 L525.5,723.2 L528,721.8 L530.5,720.4 L533,719 L535.5,717.6 L538,716.2 L540.5,714.8 L543,713.4 L545.5,712 L548,710.5 L550.5,709.1 L553,707.6 L555.5,706.2 L558,704.7 L560.5,703.2 L563,701.7 L565.5,700.2 L568,698.7 L570.5,697.2 L573,695.7 L575.5,694.2 L578,692.6 L580.5,691.1 L583,689.5 L585.5,688 L588,686.4 L590.5,684.8 L593,683.2 L595.5,681.6 L598,680 L600.5,678.4 L603,676.8 L605.5,675.2 L608,673.5 L610.5,671.9 L613,670.2 L615.5,668.6 L618,666.9 L620.5,665.2 L623,663.5 L625.5,661.8 L628,660.1 L630.5,658.4 L633,656.7 L635.5,655 L638,653.3 L640.5,651.5 L643,649.8 L645.5,648 L648,646.3 L650.5,644.5 L653,642.7 L655.5,640.9 L658,639.1 L660.5,637.3 L663,635.5 L665.5,633.7 L668,631.9 L670.5,630.1 L673,628.2 L675.5,626.4 L678,624.5 L680.5,622.7 L683,620.8 L685.5,618.9 L688,617.1 L690.5,615.2 L693,613.3 L695.5,611.4 L698,609.5 L700.5,607.5 L703,605.6 L705.5,603.7 L708,601.7 L710.5,599.8 L713,597.8 L715.5,595.9 L718,593.9 L720.5,591.9 L723,590 L725.5,588 L728,586 L730.5,584 L733,582 L735.5,579.9 L738,577.9 L740.5,575.9 L743,573.9 L745.5,571.8 L748,569.8 L750.5,567.7 L753,565.6 L755.5,563.6 L758,561.5 L760.5,559.4 L763,557.3" class="dt"/>
</svg>
</body></html>
